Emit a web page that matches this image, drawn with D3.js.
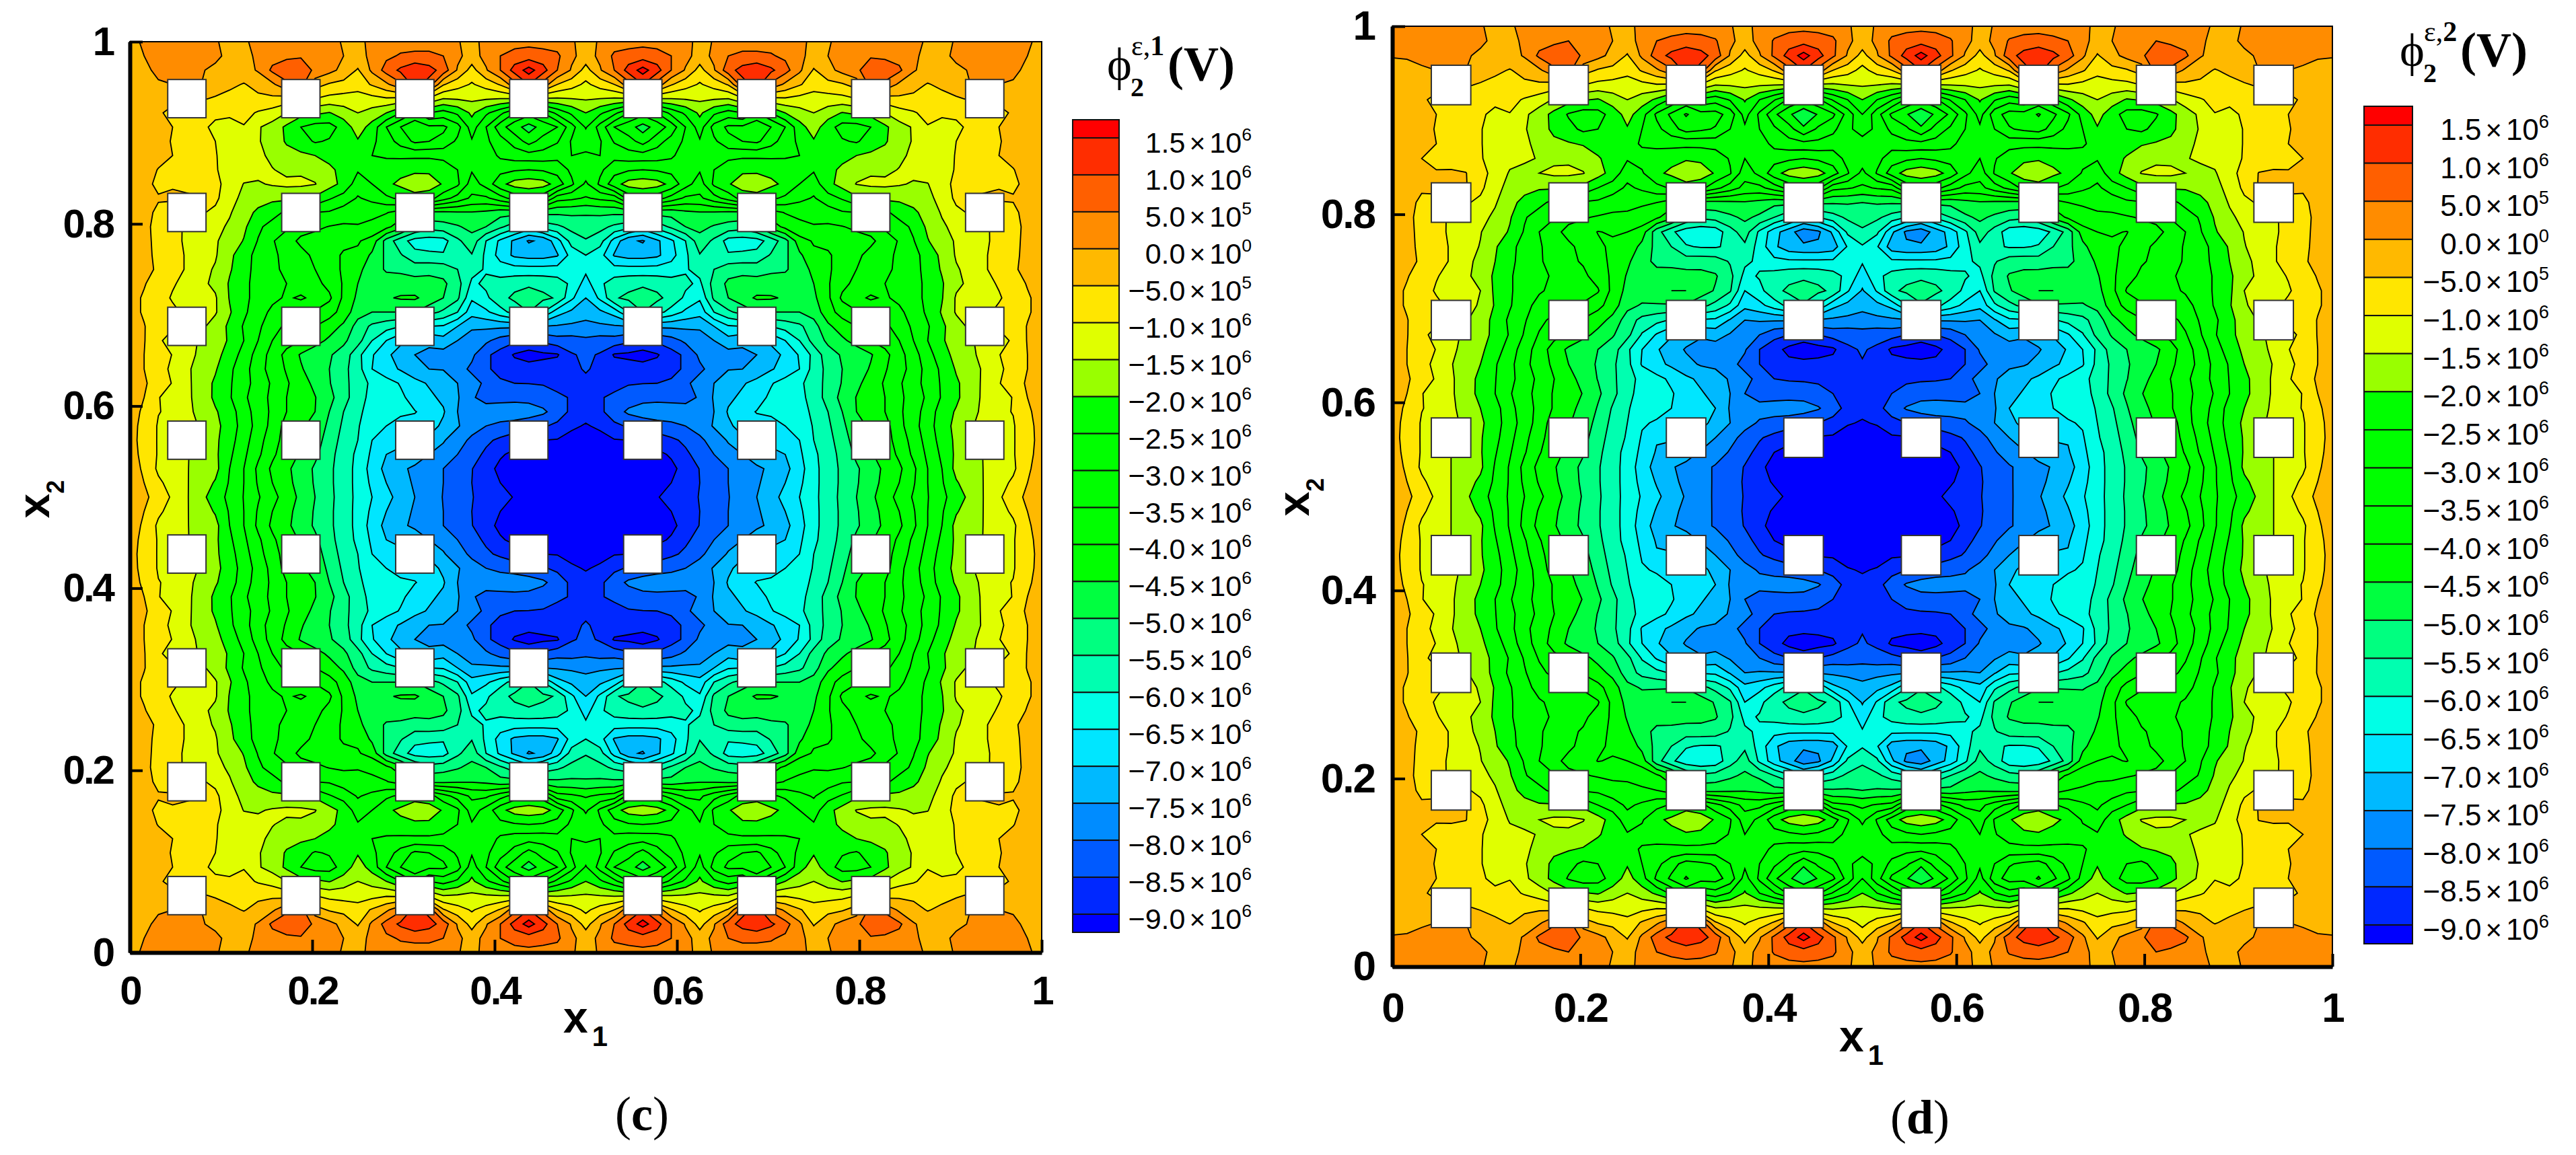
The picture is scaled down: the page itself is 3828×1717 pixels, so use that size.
<!DOCTYPE html>
<html>
<head>
<meta charset="utf-8">
<script src="https://d3js.org/d3.v7.min.js"></script>
<style>
  html, body { margin: 0; background: #fff; }
  text { fill: #000; }
</style>
</head>
<body>
<div id="chart"></div>
<script>
// Contour levels, top of the legend first (units of 1e5 V)
var levels = [15, 10, 5, 0, -5, -10, -15, -20, -25, -30, -35, -40, -45, -50, -55, -60, -65, -70, -75, -80, -85, -90];
var mantissas = ["1.5", "1.0", "5.0", "0.0", "\u22125.0", "\u22121.0", "\u22121.5", "\u22122.0", "\u22122.5", "\u22123.0", "\u22123.5", "\u22124.0", "\u22124.5", "\u22125.0", "\u22125.5", "\u22126.0", "\u22126.5", "\u22127.0", "\u22127.5", "\u22128.0", "\u22128.5", "\u22129.0"];
var exponents = ["6", "6", "5", "0", "5", "6", "6", "6", "6", "6", "6", "6", "6", "6", "6", "6", "6", "6", "6", "6", "6", "6"];
// Fill above each level, then the one below the last level
var bandColors = ["#ff0000", "#ff2d00", "#ff5f00", "#ff8c00", "#ffb900", "#ffe600", "#e0ff00", "#99ff00", "#00ff00", "#00ff00", "#00ff00", "#00ff00", "#00ff00", "#00ff40", "#00ff80", "#00ffb0", "#00ffe6", "#00e6ff", "#00b9ff", "#008cff", "#005aff", "#0028ff", "#0000ff"];
var axisTicks = [0, 0.2, 0.4, 0.6, 0.8, 1];
var holeCentres = [0.0625, 0.1875, 0.3125, 0.4375, 0.5625, 0.6875, 0.8125, 0.9375];

// Potential, upper left quarter of each plate (1e5 V).
// Rows go from x2=1 down to x2=0.5, columns from x1=0 to x1=0.5.
var phiC = [
[-2,1,2,2,2,2,.3,-1,-.5,1,2,2.5,2.5,2,1,-.3,-1,1,2,3,3,3,2,.2,-1,1,2.5,3,3.5,3,2.5,.3,-1],
[-2,0,1.5,2,2.5,2,.8,-1,-.8,.5,3,4,4.5,3.5,1.5,0,-1.5,1,4,5.5,6,6,5,1,-2,1.5,5,7,7.5,7,6,1,-2],
[-3,-1,1,2.5,3,.3,-.8,-1.5,-2,.5,6,8,8,4,1.5,-1.5,-5.5,1,7,11,14,12,8,-.5,-7,-.5,5,12,17,12,5,-.5,-7],
[-3.5,-2.5,-.5,0,1,0,-2.5,-4,-5.3,-3.5,-1,4,7,-3,-5.5,-6.5,-7.5,-4.5,-1,4,12,8,-4.5,-8,-10.5,-8,-4.5,3,10,3,-5,-8,-11],
[-3.5,-3.5,-4,-4,-4.5,-4.5,-5.5,-6.5,-7.5,-6,-6,-7,-8,-10,-11.5,-12,-12.5,-11.5,-10.5,-11,-10,-11,-15,-14.5,-14,-14.5,-15,-15,-15,-15.5,-15.5,-15,-14.5],
[-3,-3.5,-4.5,-6,-7,-8,-9.5,-9.5,-8.5,-10.5,-12,-15,-18,-19,-20.3,-17.5,-15,-17,-20,-25,-30,-25,-27,-24,-19,-24,-28.5,-35,-38,-35,-28.5,-24,-20],
[-3,-3.5,-4,-5,-7,-9.5,-10.5,-11,-10.3,-14.5,-17,-21,-25,-27,-27,-23,-17.5,-22,-30,-35,-39.5,-36,-36,-32,-22.5,-30,-38,-43,-47,-43,-40,-32,-24.5],
[-3,-3.5,-4,-5.2,-6.5,-8,-10,-12,-13,-14.5,-17.5,-20.5,-23,-25.5,-24.5,-22.5,-20.5,-24,-27.5,-32,-36,-35,-33.5,-29,-25.5,-29,-33,-37,-42,-38,-35.5,-29.5,-28.6],
[-3,-3,-3.5,-5,-6.5,-8.5,-9.8,-11.5,-12.5,-14,-16,-18.5,-19,-20,-21.5,-22.5,-23,-25,-25.5,-26,-26,-26,-26.5,-26,-27,-27,-31,-32.5,-33,-33,-31.5,-30,-30.5],
[-3,-3,-5.2,-6.5,-7.5,-9,-9.8,-11,-12.5,-13.5,-14.8,-16,-15.8,-16.5,-19,-21.5,-24.5,-23.5,-23,-21.5,-21,-21,-22,-25,-29.5,-29,-26.5,-25.5,-25,-25.5,-27,-31,-31.5],
[-3,-4.3,-5.5,-5.3,-5.5,-6.5,-9,-11.5,-15.2,-15.5,-14.5,-14,-14,-14.8,-18,-21.5,-27.5,-25,-21,-19,-17,-17.5,-20.5,-24,-32.5,-28,-21.5,-18,-17,-18,-22,-29,-36],
[-3,-4,-4.8,-4.5,-4.7,-4.8,-9,-13,-16.5,-18,-19,-19,-20,-21,-24.5,-27,-30.5,-28.5,-26,-24,-22,-23,-28,-32,-36,-36,-32,-28,-26,-28,-38,-39,-40.5],
[-3,-4.2,-5.5,-7,-8,-9.5,-11,-14.5,-18,-21,-23,-26,-28,-30,-30.5,-32.5,-33.5,-34,-34.7,-37,-42,-46,-46,-45.5,-45.3,-46,-48,-48,-48,-48.5,-49,-49,-49.5],
[-3,-4.2,-6,-9,-10.5,-11.5,-13.5,-15.8,-19,-24,-27,-29,-33,-34,-35.2,-35.7,-35.3,-36,-38.5,-43,-50,-53,-52,-50.5,-48.5,-50,-54,-58,-62,-58,-56,-53.5,-52],
[-3,-4,-6,-8.5,-10.8,-13,-14.5,-17,-20.3,-25.3,-29.5,-33,-36,-37,-39.5,-39,-39.5,-42,-52,-58,-62,-62.5,-62,-56,-52,-60,-66,-71,-75.5,-74,-67,-58,-55.5],
[-3,-4,-5.8,-8,-10.5,-13,-14.5,-19,-22.5,-27,-29,-31.5,-33.5,-36,-38.5,-40.5,-41,-46,-51,-54.5,-58.5,-59,-59.5,-58,-55.3,-61,-67,-71,-72,-72,-70.5,-63,-60],
[-3,-4,-5.5,-8,-10.5,-13.5,-15.5,-19.5,-23,-27,-29,-31,-33.5,-35,-37,-41,-43.5,-48,-50.5,-51,-52,-51.5,-52,-55,-58.3,-60.5,-62.5,-63,-63,-63,-63,-62.5,-64],
[-3.5,-4.7,-7,-9.5,-11.5,-14,-16,-20.5,-24,-26.5,-28.5,-30,-32,-33.5,-36.5,-40.5,-45,-47,-48,-47.5,-48,-48,-49,-53,-61,-59,-58,-56.5,-56,-56.5,-57.5,-61,-67],
[-3.5,-5.5,-8,-10.5,-11.5,-13,-14.5,-20.3,-24,-26.5,-29,-30.5,-29.5,-31,-34,-41,-46,-47,-45.5,-44.5,-44.3,-47,-50,-54,-64.3,-61,-56.5,-54,-52,-54,-55.5,-64,-70],
[-3.5,-5.5,-7.5,-9,-11,-13,-14.5,-19.5,-24,-28,-31,-32,-33,-35.5,-38,-42,-48,-50,-50,-50,-50,-53,-56,-60,-68,-66,-62,-58,-55,-60,-68,-71,-73],
[-3.5,-4.8,-7.5,-9.7,-12,-14,-17,-21,-25.5,-29,-33,-36,-38,-40,-42.5,-46,-52,-56,-58,-60,-64,-65,-65.5,-70,-74.3,-74,-74,-74,-74,-75,-75.5,-76,-76.5],
[-3.5,-4.7,-9.6,-11,-13.5,-15.5,-18,-20.5,-25,-30,-35,-38,-40,-43,-46,-49,-53,-60,-65,-69,-72,-74,-72,-75,-77,-79,-82,-84,-86,-84,-82,-82,-81],
[-3.5,-5,-7.5,-10.2,-13.5,-16,-18.5,-22,-27,-32,-37,-41.5,-45.5,-48,-49.5,-52,-58.5,-64.5,-69,-72,-75,-76,-77,-78,-79,-84,-87,-90.5,-92,-91,-90.5,-85.5,-84],
[-3.5,-5,-8,-11,-14.2,-17,-19.5,-24,-28,-33,-37,-40.5,-44.5,-47.5,-50,-53.5,-58,-65,-68,-70.5,-73,-75,-75.2,-78,-81,-84.5,-86,-88,-88,-88,-87.5,-85.5,-84.8],
[-3.8,-4.4,-7.2,-10.3,-13.9,-17.4,-20.8,-24.4,-28.2,-32,-35.7,-39.4,-42.8,-46.2,-49.7,-53.4,-57.6,-61,-63,-65.4,-68.5,-70.5,-72.6,-75,-78,-81,-84.5,-85,-85.1,-85.3,-85.8,-85.5,-85.5],
[-3.8,-5,-9.8,-11.8,-14,-17,-21,-24.5,-29,-33,-36,-40,-41.5,-44.8,-48.5,-53,-58,-61.5,-63,-64,-67,-69,-71,-74.5,-79.5,-81.5,-81.5,-81.5,-82,-83,-84.5,-85.2,-86],
[-3.8,-5.5,-9.8,-11,-13.8,-16.5,-19.5,-22.5,-28,-32,-36,-40,-44,-45,-50,-55,-59,-62,-63,-64.5,-64.8,-66.5,-69.5,-75,-78.5,-78,-77.5,-77,-77,-79,-82.5,-86,-88],
[-3.8,-6,-10.5,-12,-14,-15.3,-18.5,-22.5,-27,-32,-36.5,-42,-44,-47,-51,-56,-59.5,-64,-65,-66,-66.5,-68,-71,-74.5,-78,-80,-81,-82,-84,-84.5,-86,-89,-90.5],
[-3.8,-6.2,-10.5,-12.5,-14.5,-16,-19,-23,-28,-33,-38,-42,-45,-48,-52,-57,-60,-65,-69,-69,-70,-71,-74.5,-78,-81,-84,-86,-88,-90,-90,-90.3,-92,-92.5],
[-3.6,-6,-10.5,-12.7,-14.8,-16.2,-19,-24,-29,-34,-39,-43,-45.5,-49,-53,-58,-60.8,-66,-70,-71,-72,-75,-77,-80,-83,-86,-89.5,-91,-92,-92,-92.5,-93,-93.5],
[-3.5,-5.5,-11,-13,-14.8,-16.5,-18.5,-25,-30,-36,-41,-44,-47.3,-50.7,-54,-57.5,-61.5,-67,-71.5,-74,-76,-78,-80,-82,-84.8,-88.5,-91,-93,-94,-94.5,-95,-95.5,-96],
[-3,-5,-9,-12,-14.7,-17.5,-20.5,-25.5,-30,-35.5,-40,-43.5,-47,-50.5,-54,-57.5,-61.5,-66,-70,-73.5,-75.5,-78,-80,-82.5,-85,-88,-90,-92,-93,-94,-94.5,-95,-96],
[-2.5,-4,-7,-10.8,-14.6,-18.6,-22.5,-26.3,-30.2,-34.5,-38.4,-42.3,-46.2,-50,-53.7,-57.5,-61.3,-65,-68.5,-71.8,-75,-77.6,-80.2,-82.5,-84.8,-86.6,-88.4,-90.3,-92,-93,-94,-95,-96]
];
var phiD = [
[1.5,2,2,2,2,2,.3,-1,-.5,1,2,2.5,2.5,2,1,-.3,-1,1,2,3,3,3,2,.2,-1,1,2.5,3,3.5,3,2.5,.3,-1],
[1,1.5,2,2.2,2.5,2,.8,-1,-.8,.5,3,4,5,3.5,1.5,0,-1.5,1.2,5,6,7,6.5,5.5,1,-2,1.5,5.5,7.5,8,7.5,6,1,-2],
[.3,.5,1.2,2.5,3,.5,-.8,-1.5,-2,.5,6,8,8.5,4,1.5,-1.5,-5.5,1,7.5,11.5,14,12,8,-.5,-7,-.5,6,12,17,12,6,-.5,-7],
[-1.8,-1.5,-.6,0,1,0,-2.5,-4,-5.3,-3.5,-1,4,7,-3,-5.5,-6.5,-8,-4.5,-1,4,12,8,-4.5,-8,-10.5,-8,-4.5,3,10,3,-5,-8,-11.5],
[-3,-3.2,-3.8,-4,-4.5,-4.5,-5.5,-6.5,-7.5,-6,-6,-7,-8,-10,-11.5,-12,-13,-11.5,-10.5,-11,-10,-11,-15,-14.5,-14,-14.5,-15,-15.5,-16,-16,-16,-15,-14.5],
[-3,-3.5,-4.5,-5.8,-7,-8,-9.3,-9.5,-8.5,-10.5,-12.5,-15.5,-18,-19.5,-20.5,-17.5,-15,-17.5,-21,-26,-31,-26,-28,-24.5,-19.5,-25,-29.5,-36,-39,-36,-29.5,-25,-20],
[-3,-3.5,-4,-5,-6.5,-8.5,-9.7,-10.5,-10.2,-14,-17.5,-21.5,-25.5,-27.5,-27,-23,-18,-23,-31,-36,-40.5,-37,-37,-33,-23,-31,-39,-44,-49,-44.5,-41,-33,-25],
[-3,-3.5,-4,-5.2,-6,-7.5,-9.8,-11.5,-12.5,-14.5,-18,-21,-23.5,-26,-25,-23,-20.5,-25,-28.5,-33,-37,-36,-34.5,-30,-26,-30,-34,-38,-44,-39,-36.5,-30.5,-29],
[-3,-3,-3.5,-5,-6,-8,-9.8,-11.5,-12.5,-14,-16.5,-19,-19.5,-20.5,-22,-23,-23.5,-25.5,-26,-26.5,-26.5,-26.5,-27,-26.5,-27.5,-27.5,-31.5,-33,-33.5,-33.5,-32,-30.5,-31],
[-3,-3,-5,-6,-6.5,-8,-9.8,-11,-13.5,-14.5,-15.2,-16,-15.8,-16.5,-19.5,-22,-24.5,-23.5,-23,-21.5,-20.5,-21,-22,-25.5,-30,-29.5,-27,-26,-25,-26,-27.5,-31.5,-32],
[-3,-4.2,-5,-4.7,-4.5,-4.8,-8.5,-11.5,-15.5,-16,-15,-14,-14,-14.8,-18,-22,-28,-25.5,-21,-19,-17,-17.5,-20.5,-24.5,-33,-28.5,-22,-18,-16.5,-18,-22.5,-29.5,-36.5],
[-3,-4,-4.7,-3.5,-4,-4.6,-9,-13,-17,-18.5,-19.5,-19.5,-20,-21.5,-25,-27.5,-31,-29,-26.5,-24.5,-22,-23.5,-28.5,-32.5,-36.5,-36.5,-32.5,-28.5,-26.5,-28.5,-38.5,-39.5,-41],
[-3,-4.2,-5.5,-7,-8,-9.5,-11,-14.5,-18.5,-21.5,-23.5,-26.5,-28.5,-30.5,-31,-33,-34,-34.5,-35,-37.5,-42.5,-46.5,-46.5,-46,-45.5,-46.5,-48.5,-48.5,-49,-49,-49.5,-49.5,-50],
[-3,-4.2,-6,-9,-10.5,-11.5,-13.5,-16,-19.5,-24.5,-27.5,-29.5,-33.5,-34.5,-35.5,-36,-35.7,-36.5,-39,-43.5,-50.5,-54,-53,-51,-49,-51,-55,-59,-64,-60,-57,-54,-52.5],
[-3,-4,-6,-8.5,-10.8,-13,-14.8,-17.5,-20.5,-25.5,-30,-33.5,-36.5,-37.5,-40.2,-39.5,-40,-42.5,-53,-59,-63,-63.5,-63,-57,-52.5,-61,-68,-73,-78,-76,-69,-59,-56],
[-3,-4,-5.8,-8,-10.5,-13.5,-15.2,-19.5,-23,-27.5,-29.5,-32,-34,-36.5,-39,-41,-41.5,-46.5,-51.5,-55,-59.5,-60.5,-60.5,-59,-56,-62,-69,-73,-74,-74,-72.5,-64.5,-60.5],
[-3,-4,-5.5,-8,-10.5,-14,-16,-20,-23.5,-27.5,-29.5,-31.5,-34,-35.5,-37.5,-41.5,-44,-48.5,-51,-51.5,-52.5,-52,-52.5,-55.5,-59,-61,-63.5,-64,-64,-64,-64,-63,-64.5],
[-3.5,-4.7,-7,-9.7,-11.5,-14.2,-16.5,-21,-24.5,-27,-29,-30.5,-32.5,-34,-37,-41,-45.5,-47.5,-48.5,-48,-48,-48.5,-49.5,-53.5,-61.5,-59.5,-58,-56.5,-56,-56.5,-58,-61.5,-67.5],
[-3.5,-5.5,-8,-10.5,-11.5,-13,-15,-21,-24.5,-27,-29.5,-31,-30,-31.5,-34.5,-41.5,-46.5,-47.5,-46.5,-45,-45,-47.5,-50.5,-54.5,-65,-61.5,-56.5,-54,-52.5,-54,-56,-64.5,-70.5],
[-3.5,-5.5,-7.5,-9,-11,-13.5,-15.5,-20.5,-24.5,-28.5,-31.5,-32.5,-33.5,-36,-38.5,-42.5,-48.5,-50.5,-50.5,-50.5,-50.5,-53.5,-56.5,-61,-68.5,-66.5,-62.5,-58.5,-55.5,-60.5,-68.5,-71.5,-73.5],
[-3.5,-4.8,-7.5,-9.7,-12,-14.5,-17.5,-21.5,-26,-29.5,-33.5,-36.5,-38.5,-40.5,-43,-46.5,-52.5,-56.5,-58.5,-60.5,-64.5,-65.5,-66,-70.5,-75,-74.5,-74.5,-74.5,-74.5,-75.5,-76,-76.5,-77],
[-3.5,-4.7,-9.6,-10.5,-13.5,-16,-18.5,-21,-25.5,-30.5,-35.5,-38.5,-40.5,-43.5,-46.5,-49.5,-53.5,-60.5,-65.5,-69.5,-72.5,-74.5,-73,-75.5,-77.5,-80,-83.5,-85,-87,-85,-83,-83,-82],
[-3.5,-5,-7.5,-10.2,-14,-16.5,-19,-22.5,-27.5,-32.5,-37.5,-42,-46,-48.5,-50,-52.5,-59,-65,-69.5,-72.5,-75.5,-76.5,-77.5,-78.5,-79.5,-85,-88,-91.5,-93,-92,-91,-86,-84.5],
[-3.5,-5,-8,-11.5,-14.7,-17.5,-20,-24.5,-28.5,-33.5,-37.5,-41,-45,-48,-50.5,-54,-58.5,-65.5,-68.5,-71,-73.5,-75.5,-76,-78.5,-81.5,-85,-87,-88.5,-88.5,-88.5,-88,-86,-85.3],
[-3.8,-4.4,-7.2,-10.6,-14.2,-17.8,-21.2,-24.8,-28.6,-32.5,-36.2,-39.9,-43.3,-46.7,-50.2,-53.9,-58.1,-61.5,-63.5,-66,-69,-71,-73,-75.5,-78.5,-81.5,-85,-85.5,-85.6,-85.8,-86.3,-86,-86],
[-3.8,-5,-9.8,-12,-14.3,-17.5,-21.5,-25,-29.5,-33.5,-36.5,-40.5,-42,-45.3,-49,-53.5,-58.5,-62,-63.5,-64.5,-67.5,-69.5,-71.5,-75,-80,-82,-82,-82,-82.5,-83.5,-85,-85.7,-86.5],
[-3.8,-5.5,-9.8,-11.3,-14,-17,-20,-23,-28.5,-32.5,-36.5,-40.5,-44.5,-45.5,-50.5,-55.5,-59.5,-62.5,-63.5,-65,-65.3,-67,-70,-75.5,-79,-78.5,-78,-77.5,-77.5,-79.5,-83,-86.5,-88.5],
[-3.8,-6,-10.5,-12.2,-14.3,-15.6,-19,-23,-27.5,-32.5,-37,-42.5,-44.5,-47.5,-51.5,-56.5,-60,-64.5,-65.5,-66.5,-67,-68.5,-71.5,-75,-78.5,-80.5,-81.5,-82.5,-84.5,-85,-86.5,-89.5,-90.5],
[-3.8,-6.2,-10.5,-12.8,-14.7,-16.3,-19.5,-23.5,-28.5,-33.5,-38.5,-42.5,-45.5,-48.5,-52.5,-57.5,-60.5,-65.5,-69.5,-69.5,-70.5,-71.5,-75,-78.5,-81.5,-84.5,-86.5,-88.5,-90.5,-90.5,-90.8,-92.5,-93],
[-3.6,-6,-10.5,-13,-15,-16.5,-19.5,-24.5,-29.5,-34.5,-39.5,-43.5,-46,-49.5,-53.5,-58.5,-61.2,-66.5,-70.5,-71.5,-72.5,-75.5,-77.5,-80.5,-83.5,-86.5,-90,-91.5,-92.5,-92.5,-93,-93.5,-94],
[-3.5,-5.5,-11,-13.2,-15,-17,-19,-25.5,-30.5,-36.5,-41.5,-44.5,-47.8,-51.2,-54.5,-58,-62,-67.5,-72,-74.5,-76.5,-78.5,-80.5,-82.5,-85.3,-89,-91.5,-93.5,-94.5,-95,-95.5,-96,-96.5],
[-3,-5,-9,-12.3,-15,-18,-21,-26,-30.5,-36,-40.5,-44,-47.5,-51,-54.5,-58,-62,-66.5,-70.5,-74,-76,-78.5,-80.5,-83,-85.5,-88.5,-90.5,-92.5,-93.5,-94.5,-95,-95.5,-96.5],
[-2.5,-4,-7,-11,-15,-19,-23,-26.8,-30.7,-35,-38.9,-42.8,-46.7,-50.5,-54.2,-58,-61.8,-65.5,-69,-72.3,-75.5,-78,-80.7,-83,-85.3,-87.1,-88.9,-90.8,-92.5,-93.5,-94.5,-95.5,-96.5]
];

// The plates are symmetric, so each quarter is mirrored into the whole field
function mirrorField(quarter) {
  var top = quarter.map(function(row) {
    return row.concat(row.slice(0, -1).reverse());
  });
  var rows = top.concat(top.slice(0, -1).reverse());
  return d3.merge(rows);
}

var svg = d3.select("#chart").append("svg")
  .attr("width", 3828)
  .attr("height", 1717)
  .style("display", "block");

function drawPanel(p) {
  var g = svg.append("g");
  var n = 65;
  var xScale = d3.scaleLinear().domain([0, 1]).range([p.left, p.right]);
  var yScale = d3.scaleLinear().domain([0, 1]).range([p.bottom, p.top]);

  // Contour coordinates have node k at k+0.5
  var path = d3.geoPath(d3.geoTransform({
    point: function(x, y) {
      this.stream.point(xScale((x - 0.5) / (n - 1)), yScale(1 - (y - 0.5) / (n - 1)));
    }
  }));

  var clipId = "clip" + p.name;
  g.append("clipPath").attr("id", clipId).append("rect")
    .attr("x", p.left).attr("y", p.top)
    .attr("width", p.right - p.left).attr("height", p.bottom - p.top);

  var thresholds = levels.slice().reverse();
  var contours = d3.contours().size([n, n]).thresholds(thresholds)(mirrorField(p.field));

  var plot = g.append("g").attr("clip-path", "url(#" + clipId + ")");
  plot.append("rect")
    .attr("x", p.left).attr("y", p.top)
    .attr("width", p.right - p.left).attr("height", p.bottom - p.top)
    .attr("fill", bandColors[bandColors.length - 1]);
  plot.selectAll("path").data(contours).enter().append("path")
    .attr("d", path)
    .attr("fill", function(d) { return bandColors[levels.indexOf(d.value)]; })
    .attr("stroke", "#000")
    .attr("stroke-width", 1.8);

  // Square holes of the plate
  var holeSize = 0.042;
  var holes = d3.cross(holeCentres, holeCentres);
  g.selectAll("rect.hole").data(holes).enter().append("rect")
    .attr("class", "hole")
    .attr("x", function(d) { return xScale(d[0] - holeSize / 2); })
    .attr("y", function(d) { return yScale(d[1] + holeSize / 2); })
    .attr("width", xScale(holeSize) - xScale(0))
    .attr("height", yScale(0) - yScale(holeSize))
    .attr("fill", "#fff")
    .attr("stroke", "#333")
    .attr("stroke-width", 2);

  // Frame, thin on top and right, heavy on the axes
  g.append("rect")
    .attr("x", p.left).attr("y", p.top)
    .attr("width", p.right - p.left).attr("height", p.bottom - p.top)
    .attr("fill", "none").attr("stroke", "#000").attr("stroke-width", 2);

  var xAxis = d3.axisBottom(xScale).tickValues(axisTicks).tickFormat(d3.format("~g"))
    .tickSizeInner(-19).tickSizeOuter(0).tickPadding(p.xPad);
  var yAxis = d3.axisLeft(yScale).tickValues(axisTicks).tickFormat(d3.format("~g"))
    .tickSizeInner(-19).tickSizeOuter(0).tickPadding(p.yPad);

  [g.append("g").attr("transform", "translate(0," + p.bottom + ")").call(xAxis),
   g.append("g").attr("transform", "translate(" + p.left + ",0)").call(yAxis)].forEach(function(ax) {
    ax.select(".domain").attr("stroke", "#000").attr("stroke-width", 6);
    ax.selectAll(".tick line").attr("stroke", "#000").attr("stroke-width", 4);
    ax.selectAll("text")
      .attr("font-family", "'Liberation Sans', Arial, sans-serif")
      .attr("font-weight", "bold")
      .attr("font-size", p.tickFont)
      .attr("letter-spacing", p.tickSpacing)
      .attr("fill", "#000");
  });

  // Axis names
  var xName = g.append("text")
    .attr("x", p.xNameX).attr("y", p.xNameY)
    .attr("text-anchor", "middle")
    .attr("font-family", "'Liberation Sans', Arial, sans-serif")
    .attr("font-weight", "bold").attr("font-size", 66);
  xName.append("tspan").text("x");
  xName.append("tspan").attr("dx", 6).attr("dy", 20).attr("font-size", 42).text("1");

  var yName = g.append("text")
    .attr("transform", "translate(" + p.yNameX + "," + p.yNameY + ")rotate(-90)")
    .attr("text-anchor", "middle")
    .attr("font-family", "'Liberation Sans', Arial, sans-serif")
    .attr("font-weight", "bold").attr("font-size", 66);
  yName.append("tspan").text("x");
  yName.append("tspan").attr("dy", 22).attr("font-size", 36).text("2");

  // Panel letter
  var letter = g.append("text")
    .attr("x", p.letterX).attr("y", p.letterY)
    .attr("text-anchor", "middle")
    .attr("font-family", "'Liberation Serif', 'Times New Roman', serif")
    .attr("font-size", 72);
  letter.append("tspan").text("(");
  letter.append("tspan").attr("font-weight", "bold").text(p.letter);
  letter.append("tspan").text(")");

  // Legend bar, one cell per band
  var legendY = d3.scaleLinear()
    .domain([levels[0], levels[levels.length - 1]])
    .range([p.legendFirst, p.legendLast]);
  var edges = [p.legendTop].concat(levels.map(legendY), [p.legendBottom]);
  g.selectAll("rect.band").data(bandColors).enter().append("rect")
    .attr("class", "band")
    .attr("x", p.legendLeft)
    .attr("y", function(d, i) { return edges[i]; })
    .attr("width", p.legendWidth)
    .attr("height", function(d, i) { return edges[i + 1] - edges[i]; })
    .attr("fill", function(d) { return d; })
    .attr("stroke", "#111")
    .attr("stroke-width", 2);

  var labels = g.selectAll("text.level").data(levels).enter().append("text")
    .attr("class", "level")
    .attr("x", p.labelRight)
    .attr("y", function(d) { return legendY(d) + 22; })
    .attr("text-anchor", "end")
    .attr("font-family", "'Liberation Sans', Arial, sans-serif")
    .attr("font-size", p.labelFont);
  labels.append("tspan").text(function(d, i) { return mantissas[i]; });
  labels.append("tspan").attr("dx", 6).attr("font-size", p.labelFont * 0.95).text("\u00d7");
  labels.append("tspan").attr("dx", 6).text("10");
  labels.append("tspan").attr("dy", -18).attr("font-size", p.labelFont * 0.62)
    .text(function(d, i) { return exponents[i]; });

  // Legend title, phi with stacked sub and superscript
  var serif = "'Liberation Serif', 'Times New Roman', serif";
  g.append("text").attr("x", p.titleX).attr("y", p.titleY)
    .attr("font-family", serif).attr("font-size", 70).text("\u03d5");
  g.append("text").attr("x", p.titleX + 35).attr("y", p.titleY + 24)
    .attr("font-family", serif).attr("font-weight", "bold").attr("font-size", 40).text("2");
  var sup = g.append("text").attr("x", p.titleX + 36).attr("y", p.titleY - 37)
    .attr("font-family", serif).attr("font-size", 42);
  sup.append("tspan").text("\u03b5,");
  sup.append("tspan").attr("font-weight", "bold").text(p.superscript);
  g.append("text").attr("x", p.titleX + 90).attr("y", p.titleY)
    .attr("font-family", serif).attr("font-weight", "bold").attr("font-size", 72).text("(V)");
}

drawPanel({
  name: "C", field: phiC, letter: "c", superscript: "1",
  left: 193, right: 1548, top: 62, bottom: 1416,
  xPad: 34, yPad: 25, tickFont: 60, tickSpacing: -3,
  xNameX: 870, xNameY: 1535, yNameX: 73, yNameY: 742,
  letterX: 954, letterY: 1680,
  legendLeft: 1594, legendWidth: 69, legendTop: 178, legendBottom: 1386, legendFirst: 205, legendLast: 1359,
  labelRight: 1860, labelFont: 43,
  titleX: 1645, titleY: 119
});

drawPanel({
  name: "D", field: phiD, letter: "d", superscript: "2",
  left: 2069, right: 3466, top: 39, bottom: 1437,
  xPad: 38, yPad: 26, tickFont: 62, tickSpacing: -2,
  xNameX: 2766, xNameY: 1563, yNameX: 1945, yNameY: 739,
  letterX: 2853, letterY: 1685,
  legendLeft: 3513, legendWidth: 72, legendTop: 158, legendBottom: 1403, legendFirst: 186, legendLast: 1375,
  labelRight: 3788, labelFont: 44,
  titleX: 3566, titleY: 98
});
</script>
</body>
</html>
